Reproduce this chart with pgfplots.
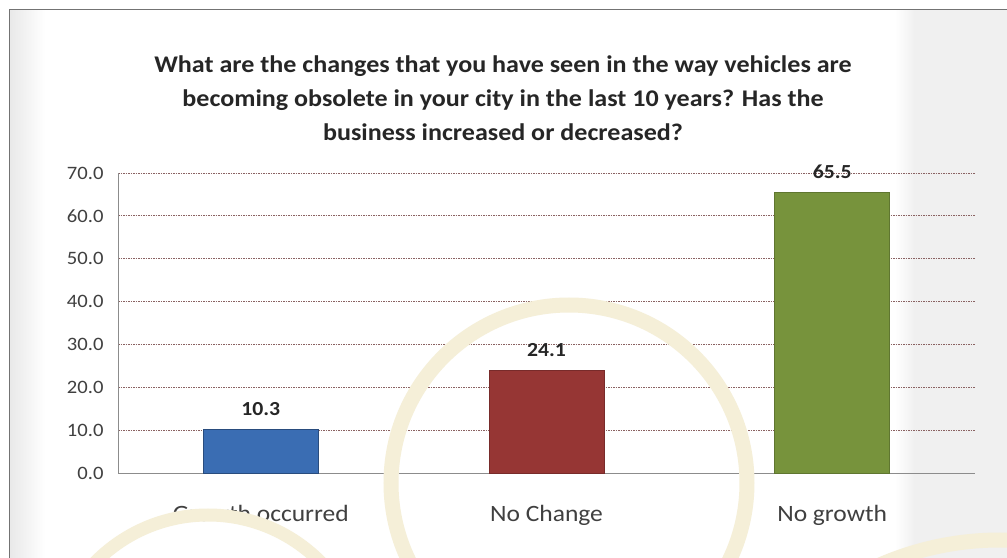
\documentclass[border=0pt]{standalone}
\usepackage{fontspec}
\setmainfont{Carlito}[FakeStretch=1.09]
\usepackage{pgfplots}
\pgfplotsset{compat=1.18}
\definecolor{barblue}{HTML}{3A6DB3}
\definecolor{barred}{HTML}{963634}
\definecolor{bargreen}{HTML}{77933C}
\definecolor{gridc}{HTML}{8A6262}
\definecolor{txt}{HTML}{404040}
\definecolor{ring}{HTML}{F5EFD8}
\begin{document}
\begin{tikzpicture}
\useasboundingbox (0bp,0bp) rectangle (1007bp,558bp);
\clip (0bp,0bp) rectangle (1007bp,558bp);
\begin{scope}[x=1bp,y=1bp]
\fill[white] (0,0) rectangle (1007,558);
\shade[left color=black!9, right color=white] (9,0) rectangle (45,548);
\shade[left color=white, right color=black!6] (895,0) rectangle (915,548);
\fill[black!6] (915,0) rectangle (1007,548);
\draw[black!55, line width=1bp] (9,0) -- (9,548) -- (1007,548);
\end{scope}
\begin{axis}[
  at={(118bp,85bp)}, anchor=south west,
  width=857bp, height=300bp, scale only axis,
  xmin=-0.5, xmax=2.5, ymin=0, ymax=70,
  ytick={0,10,...,70},
  xtick={0,1,2},
  xticklabels={Growth occurred, No Change, No growth},
  axis x line*=bottom, axis y line*=left,
  axis line style={draw=black!45, line width=1bp},
  major tick length=0pt,
  ymajorgrids,
  grid style={gridc, line width=0.9bp, dash pattern=on 1.5bp off 1bp},
  /pgf/number format/.cd, fixed, fixed zerofill, precision=1, assume math mode=true,
  /pgfplots/.cd,
  yticklabel style={font=\fontsize{19}{22}\selectfont, text=txt, xshift=-11bp},
  xticklabel style={font=\fontsize{23.5}{27}\selectfont, text=txt, yshift=-29bp},
  ybar, bar width=115bp, bar shift=0pt,
  nodes near coords,
  every node near coord/.append style={font=\fontsize{20}{24}\selectfont\bfseries, text=black!85, yshift=10bp},
  clip=false,
]
\addplot[fill=barblue, draw=barblue!70!black] coordinates {(0,10.3)};
\addplot[fill=barred, draw=barred!80!black] coordinates {(1,24.1)};
\addplot[fill=bargreen, draw=bargreen!80!black] coordinates {(2,65.5)};
\end{axis}
\begin{scope}[x=1bp,y=1bp]
\draw[ring, line width=15bp] (569,75) circle (178);
\draw[ring, line width=13bp] (208,-115) circle (158);
\draw[ring, line width=15bp] (1000,-282) circle (300);
\begin{scope}[every node/.style={anchor=base, text=black!85, font=\fontsize{24}{28}\selectfont\bfseries}]
\node at (503,485) {What are the changes that you have seen in the way vehicles are};
\node at (503,451) {becoming obsolete in your city in the last 10 years? Has the};
\node at (503,417) {business increased or decreased?};
\end{scope}
\end{scope}
\end{tikzpicture}
\end{document}
